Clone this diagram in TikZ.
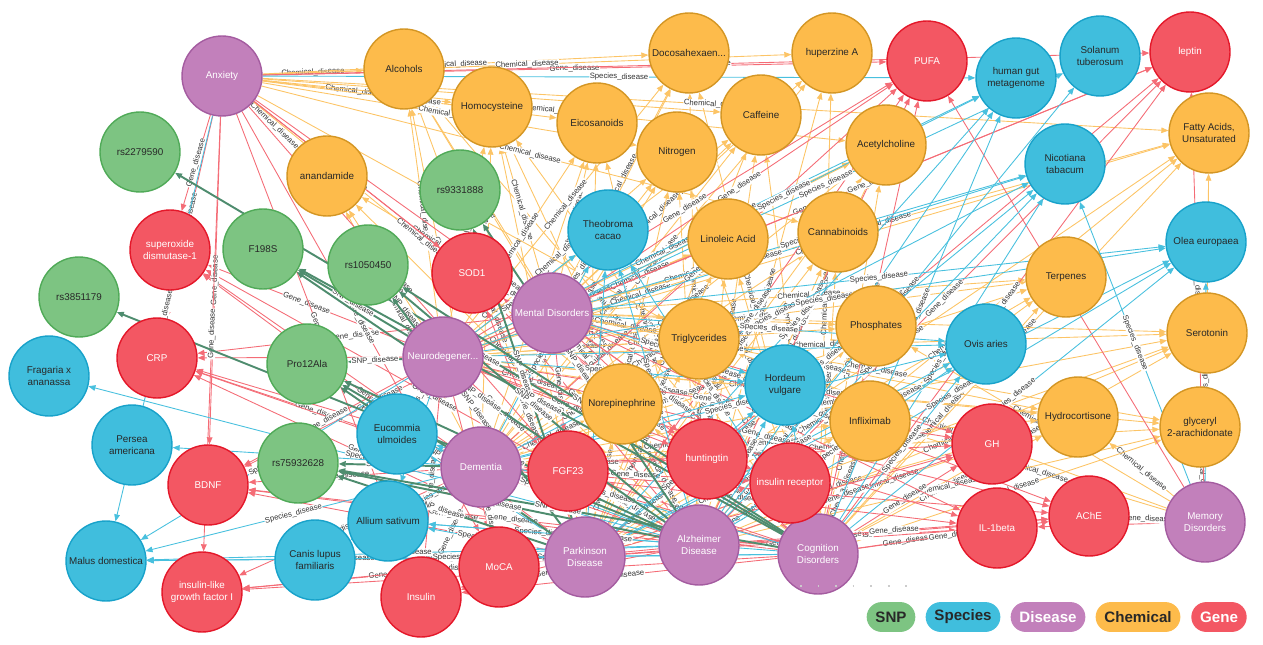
\documentclass[tikz,border=0pt]{standalone}
\usepackage{fontspec}
\setmainfont{Liberation Sans}
\definecolor{snpfill}{RGB}{125,196,130}
\definecolor{snpline}{RGB}{80,170,88}
\definecolor{spefill}{RGB}{64,190,221}
\definecolor{speline}{RGB}{24,162,202}
\definecolor{disfill}{RGB}{194,128,187}
\definecolor{disline}{RGB}{164,92,160}
\definecolor{chefill}{RGB}{253,187,75}
\definecolor{cheline}{RGB}{212,150,36}
\definecolor{genfill}{RGB}{243,87,99}
\definecolor{genline}{RGB}{228,24,42}
\definecolor{textdark}{RGB}{40,40,40}
\definecolor{snpedge}{RGB}{78,140,110}
\definecolor{speedge}{RGB}{72,192,222}
\definecolor{cheedge}{RGB}{252,196,102}
\definecolor{genedge}{RGB}{244,108,118}
\usetikzlibrary{arrows.meta}
\pgfdeclarelayer{edges}
\pgfsetlayers{edges,main}

\begin{document}
\begin{tikzpicture}[x=0.02cm, y=-0.02cm,
  ent/.style={circle, draw, line width=0.8pt, minimum size=1.6cm, inner sep=0pt, align=center, font=\fontsize{5.6}{6.6}\selectfont},
  snp/.style={ent, fill=snpfill, draw=snpline, text=textdark},
  spec/.style={ent, fill=spefill, draw=speline, text=textdark},
  dis/.style={ent, fill=disfill, draw=disline, text=white},
  chem/.style={ent, fill=chefill, draw=cheline, text=textdark},
  gene/.style={ent, fill=genfill, draw=genline, text=white},
  link/.style={line width=0.5pt, -{Triangle[length=4pt,width=3.2pt]}},
  snplink/.style={link, draw=snpedge, line width=1.1pt},
  speclink/.style={link, draw=speedge},
  chemlink/.style={link, draw=cheedge},
  genelink/.style={link, draw=genedge},
  lbl/.style={midway, sloped, fill=white, inner sep=0.3pt, text=black!80, font=\fontsize{4.4}{5}\selectfont},
  pill/.style={rounded corners=8.5pt, minimum height=17pt, inner xsep=5pt, font=\fontsize{8.6}{9}\selectfont\bfseries},
]
\useasboundingbox (0,0) rectangle (1263,645);

% Disease
\node[dis] (anx) at (222,76) {Anxiety};
\node[dis] (neuro) at (443,357) {Neurodegener...};
\node[dis] (mental) at (552,313) {Mental Disorders};
\node[dis] (dement) at (481,467) {Dementia};
\node[dis] (park) at (585,557) {Parkinson\\Disease};
\node[dis] (alz) at (699,545) {Alzheimer\\Disease};
\node[dis] (cogn) at (818,554) {Cognition\\Disorders};
\node[dis] (memory) at (1205,522) {Memory\\Disorders};

% Chemical
\node[chem] (alcohols) at (404,69) {Alcohols};
\node[chem] (homocys) at (492,107) {Homocysteine};
\node[chem] (eicos) at (597,123) {Eicosanoids};
\node[chem] (docosa) at (689,53) {Docosahexaen...};
\node[chem] (huperz) at (832,53) {huperzine A};
\node[chem] (caffeine) at (761,115) {Caffeine};
\node[chem] (nitrogen) at (677,152) {Nitrogen};
\node[chem] (anandam) at (327,176) {anandamide};
\node[chem] (acetylch) at (886,145) {Acetylcholine};
\node[chem] (linoleic) at (728,239) {Linoleic Acid};
\node[chem] (cannab) at (838,232) {Cannabinoids};
\node[chem] (triglyc) at (699,339) {Triglycerides};
\node[chem] (phosph) at (876,326) {Phosphates};
\node[chem] (norepi) at (622,404) {Norepinephrine};
\node[chem] (inflix) at (870,421) {Infliximab};
\node[chem] (terpenes) at (1066,277) {Terpenes};
\node[chem] (hydrocort) at (1078,417) {Hydrocortisone};
\node[chem] (fatty) at (1209,133) {Fatty Acids,\\Unsaturated};
\node[chem] (serotonin) at (1207,333) {Serotonin};
\node[chem] (glyceryl) at (1200,427) {glyceryl\\2-arachidonate};

% SNP
\node[snp] (rsA) at (140,152) {rs2279590};
\node[snp] (rsB) at (460,190) {rs9331888};
\node[snp] (f198s) at (263,249) {F198S};
\node[snp] (rsC) at (368,265) {rs1050450};
\node[snp] (rsD) at (79,297) {rs3851179};
\node[snp] (pro12) at (307,364) {Pro12Ala};
\node[snp] (rsE) at (298,463) {rs75932628};

% Species
\node[spec] (theob) at (608,230) {Theobroma\\cacao};
\node[spec] (hgut) at (1016,78) {human gut\\metagenome};
\node[spec] (solanum) at (1100,56) {Solanum\\tuberosum};
\node[spec] (nicot) at (1065,164) {Nicotiana\\tabacum};
\node[spec] (olea) at (1206,242) {Olea europaea};
\node[spec] (ovis) at (986,344) {Ovis aries};
\node[spec] (hordeum) at (785,385) {Hordeum\\vulgare};
\node[spec] (eucom) at (397,434) {Eucommia\\ulmoides};
\node[spec] (fragaria) at (49,376) {Fragaria x\\ananassa};
\node[spec] (persea) at (132,445) {Persea\\americana};
\node[spec] (allium) at (388,521) {Allium sativum};
\node[spec] (canis) at (315,560) {Canis lupus\\familiaris};
\node[spec] (malus) at (106,561) {Malus domestica};

% Gene
\node[gene] (pufa) at (927,61) {PUFA};
\node[gene] (leptin) at (1190,52) {leptin};
\node[gene] (sodA) at (170,250) {superoxide\\dismutase-1};
\node[gene] (crp) at (157,358) {CRP};
\node[gene] (bdnf) at (208,485) {BDNF};
\node[gene] (igf) at (202,592) {insulin-like\\growth factor I};
\node[gene] (sod1) at (472,273) {SOD1};
\node[gene] (fgf23) at (568,471) {FGF23};
\node[gene] (hunt) at (707,459) {huntingtin};
\node[gene] (insrec) at (790,483) {insulin receptor};
\node[gene] (gh) at (992,444) {GH};
\node[gene] (il1b) at (997,528) {IL-1beta};
\node[gene] (ache) at (1089,516) {AChE};
\node[gene] (moca) at (499,567) {MoCA};
\node[gene] (insulin) at (421,597) {Insulin};

% Links, behind the circles
\begin{pgfonlayer}{edges}
\foreach \t/\srcs in {
  alcohols/{anx,neuro,mental,dement,park,alz,cogn},
  homocys/{anx,neuro,mental,dement,park,alz,cogn},
  eicos/{anx,neuro,mental,dement,park,alz},
  docosa/{anx,neuro,mental,dement,alz,cogn},
  huperz/{anx,mental,dement,alz,cogn},
  caffeine/{anx,neuro,mental,dement,park,alz,cogn},
  nitrogen/{anx,neuro,mental,dement,park,alz,cogn},
  anandam/{anx,neuro,mental,dement,alz},
  acetylch/{anx,neuro,mental,dement,park,alz,cogn},
  linoleic/{neuro,mental,dement,park,alz,cogn},
  cannab/{anx,neuro,mental,dement,park,alz,cogn},
  triglyc/{anx,neuro,mental,dement,park,alz,cogn,memory},
  phosph/{neuro,mental,dement,park,alz,cogn,memory},
  norepi/{anx,neuro,mental,dement,park,alz,cogn},
  inflix/{neuro,mental,dement,park,alz,cogn,memory},
  terpenes/{neuro,mental,dement,park,alz,cogn},
  hydrocort/{neuro,mental,dement,park,alz,cogn,memory},
  fatty/{anx,neuro,mental,park,alz,cogn,memory},
  serotonin/{neuro,mental,dement,park,alz,cogn,memory},
  glyceryl/{neuro,mental,dement,alz,cogn,memory}}
  {\foreach \s in \srcs {\draw[chemlink] (\s) -- node[lbl] {Chemical\_disease} (\t);}}
\foreach \t/\srcs in {
  pufa/{anx,neuro,mental,dement,park,alz,cogn,memory},
  leptin/{anx,neuro,mental,park,alz,cogn,memory},
  sodA/{anx,neuro,dement,park,alz},
  crp/{anx,neuro,mental,dement,park,alz,cogn},
  bdnf/{anx,neuro,mental,dement,park,alz,cogn},
  igf/{anx,dement,park,alz,cogn},
  sod1/{anx,mental,park,alz,cogn},
  fgf23/{anx,neuro,mental,alz,cogn},
  hunt/{anx,neuro,mental,dement,park,cogn},
  insrec/{anx,neuro,mental,dement,park,alz},
  gh/{neuro,mental,dement,park,alz,cogn},
  il1b/{neuro,mental,dement,park,alz,cogn,memory},
  ache/{neuro,mental,dement,park,alz,cogn,memory},
  moca/{anx,neuro,dement},
  insulin/{anx,neuro,dement,park,alz,cogn}}
  {\foreach \s in \srcs {\draw[genelink] (\s) -- node[lbl] {Gene\_disease} (\t);}}
\foreach \t/\srcs in {
  theob/{neuro,mental,dement,park,alz,cogn},
  hgut/{anx,neuro,mental,park,alz,cogn},
  solanum/{mental,alz},
  nicot/{neuro,mental,dement,park,alz,cogn,memory},
  olea/{neuro,mental,park,alz,cogn,memory},
  ovis/{neuro,mental,dement,park,alz,cogn},
  hordeum/{neuro,mental,dement,park,alz,cogn},
  eucom/{neuro,dement,park,alz,cogn},
  fragaria/{alz},
  persea/{dement},
  allium/{neuro,dement,park,alz,cogn},
  canis/{dement,park,alz,cogn},
  malus/{anx,neuro,dement,park,alz,cogn}}
  {\foreach \s in \srcs {\draw[speclink] (\s) -- node[lbl] {Species\_disease} (\t);}}
\foreach \t/\srcs in {
  rsA/{cogn},
  rsB/{park,alz},
  f198s/{neuro,alz,cogn},
  rsC/{neuro,park,alz,cogn},
  rsD/{alz},
  pro12/{neuro,dement,park,alz},
  rsE/{dement,park,alz,cogn}}
  {\foreach \s in \srcs {\draw[snplink] (\s) -- node[lbl] {SNP\_disease} (\t);}}
\end{pgfonlayer}

\draw[black!20, line width=0.6pt, dash pattern=on 1pt off 9pt] (800,586) -- (922,586);

% Legend
\node[pill, fill=snpfill, text=textdark] (legsnp) at (891,617) {SNP};
\node[pill, fill=spefill, text=textdark] (legspec) at (963,617) {Species};
\node[pill, fill=disfill, text=white] (legdis) at (1048,617) {Disease};
\node[pill, fill=chefill, text=textdark] (legchem) at (1138,617) {Chemical};
\node[pill, fill=genfill, text=white] (leggene) at (1219,617) {Gene};
\end{tikzpicture}
\end{document}
